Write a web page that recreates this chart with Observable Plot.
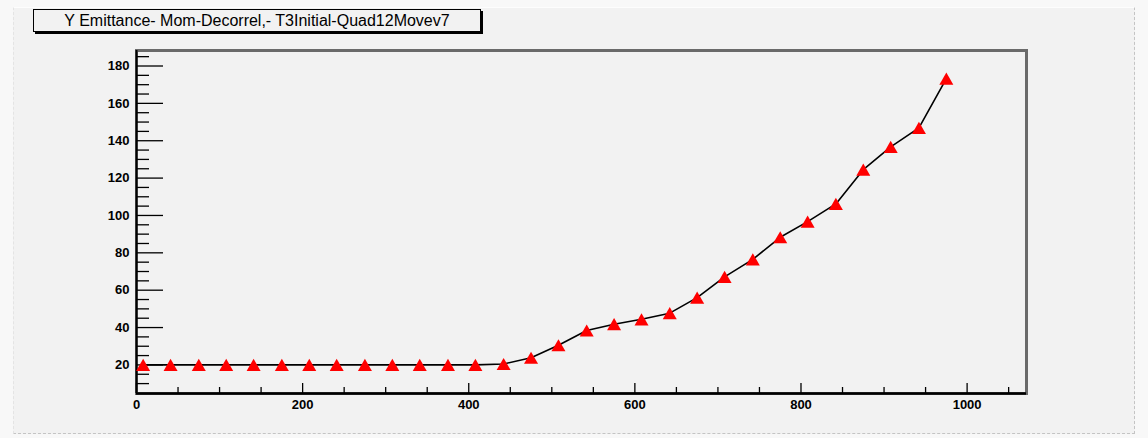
<!DOCTYPE html>
<html><head><meta charset="utf-8">
<script src="https://cdn.jsdelivr.net/npm/d3@7"></script>
<script src="https://cdn.jsdelivr.net/npm/@observablehq/plot@0.6"></script>
<style>
body{margin:0;background:#f8f8f8;}
#wrap{position:relative;width:1148px;height:438px;background:#f8f8f8;overflow:hidden}
#pad{position:absolute;left:13px;top:7px;width:1122px;height:427px;box-sizing:border-box;background:#f2f2f2;border-right:1px dashed #c4c4c4;border-bottom:1px dashed #c4c4c4;border-top:1px solid #fdfdfd;border-left:1px dashed #e4e4e4;}
#title{position:absolute;left:33px;top:9px;width:448px;height:23px;box-sizing:border-box;border:1px solid #000;box-shadow:2px 2px 0 #000;background:#f2f2f2;font:16px "Liberation Sans",Arial,sans-serif;text-align:center;line-height:21px;color:#000;white-space:nowrap}
#chart{position:absolute;left:0;top:0}
</style></head>
<body>
<div id="wrap"><div id="pad"></div><div id="chart"></div><div id="title">Y Emittance- Mom-Decorrel,- T3Initial-Quad12Movev7</div></div>
<script>
const xValues = [8, 41, 75, 108, 141, 175, 208, 241, 275, 308, 341, 375, 408, 442, 475, 508, 542, 575, 608, 642, 675, 708, 742, 775, 808, 842, 875, 908, 942, 975];
const yValues = [20, 20, 20, 20, 20, 20, 20, 20, 20, 20, 20, 20, 20, 20.5, 23.8, 30.5, 38.4, 41.8, 44.4, 47.7, 56.0, 67.1, 76.5, 88.3, 96.7, 106.2, 124.5, 136.7, 146.9, 173.2];
const xMajorTicks = [0, 200, 400, 600, 800, 1000];
const xMinorTicks = [50, 100, 150, 250, 300, 350, 450, 500, 550, 650, 700, 750, 850, 900, 950, 1050];
const yMajorTicks = [20, 40, 60, 80, 100, 120, 140, 160, 180];
const yMinorTicks = [10, 15, 25, 30, 35, 45, 50, 55, 65, 70, 75, 85, 90, 95, 105, 110, 115, 125, 130, 135, 145, 150, 155, 165, 170, 175, 185];
const xDomain = [0, 1071.5];
const yDomain = [4.7, 188.3];

const points = xValues.map((x, i) => ({x, y: yValues[i]}));

const W = 1148, H = 438, mL = 136, mR = 122, mT = 50, mB = 45;
const fw = W - mL - mR, fh = H - mT - mB;

const chart = Plot.plot({
  width: W, height: H,
  marginLeft: mL, marginRight: mR, marginTop: mT, marginBottom: mB,
  style: {background: "transparent", fontFamily: "'Liberation Sans', Arial, sans-serif", fontSize: "13px", fontWeight: "bold", color: "#000"},
  x: {domain: xDomain, label: null},
  y: {domain: yDomain, label: null},
  marks: [
    Plot.frame({stroke: "#6a6a6a", strokeWidth: 3}),
    Plot.tickY(yMinorTicks, {y: d => d, insetRight: fw - 13, stroke: "#000", strokeWidth: 1.3}),
    Plot.tickY(yMajorTicks, {y: d => d, insetRight: fw - 27, stroke: "#000", strokeWidth: 1.3}),
    Plot.tickX(xMinorTicks, {x: d => d, insetTop: fh - 6, stroke: "#000", strokeWidth: 1.3}),
    Plot.tickX(xMajorTicks, {x: d => d, insetTop: fh - 10, stroke: "#000", strokeWidth: 1.3}),
    Plot.ruleX([xDomain[0]], {stroke: "#000", strokeWidth: 2}),
    Plot.ruleY([yDomain[0]], {stroke: "#000", strokeWidth: 2.5}),
    Plot.axisY(yMajorTicks, {anchor: "left", label: null, tickSize: 0, tickPadding: 7, tickFormat: d => String(d)}),
    Plot.axisX(xMajorTicks, {anchor: "bottom", label: null, tickSize: 0, tickPadding: 6, tickFormat: d => String(d)}),
    Plot.line(points, {x: "x", y: "y", stroke: "#000", strokeWidth: 1.6}),
    Plot.dot(points, {x: "x", y: "y", symbol: "triangle", r: 5.2, fill: "#ff0000", stroke: "none", dy: 2})
  ]
});
document.getElementById("chart").appendChild(chart);
</script>
</body></html>
